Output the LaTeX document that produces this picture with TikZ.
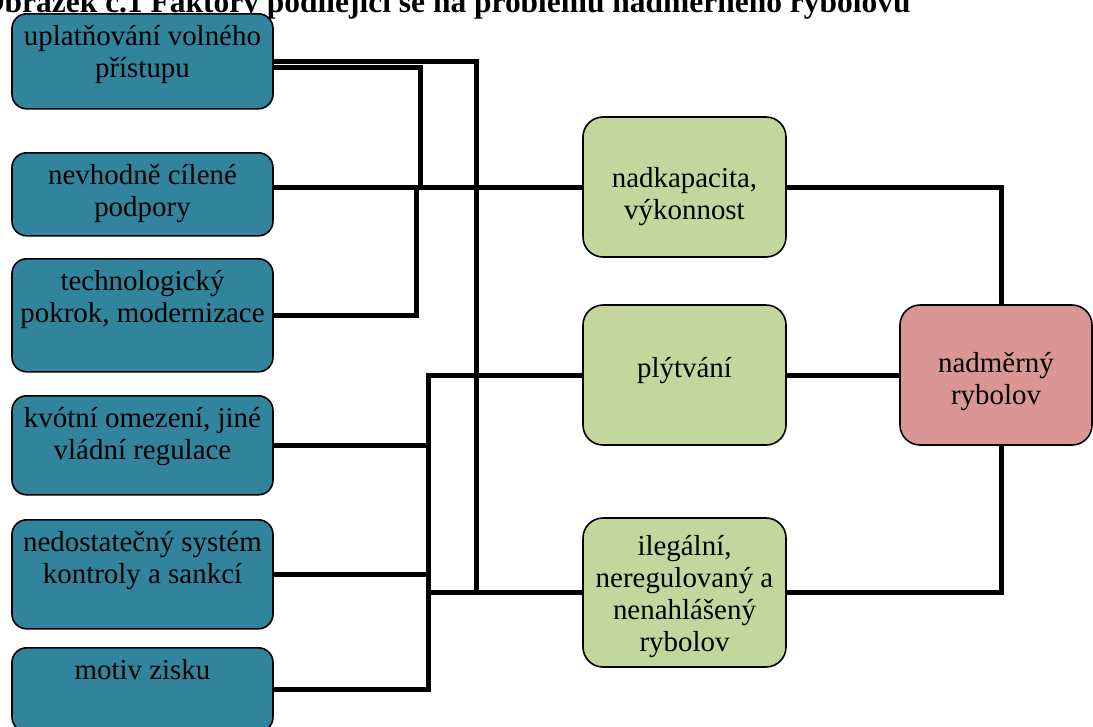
\documentclass[tikz,border=0pt]{standalone}
\usepackage{fontspec}
\setmainfont{Liberation Serif}
\usepackage{tikz}

\definecolor{factorteal}{RGB}{49,132,155}
\definecolor{effectgreen}{RGB}{195,214,155}
\definecolor{resultpink}{RGB}{217,150,148}

\begin{document}
\begin{tikzpicture}[x=0.75pt,y=0.75pt,yscale=-1,xscale=1,
	factor/.style={draw, line width=1.2pt, fill=factorteal, rounded corners=11pt, anchor=north, text width=190pt, align=flush center, inner xsep=2.875pt, inner ysep=0pt, text height=24pt, font=\fontsize{21.7}{24}\selectfont},
	effect/.style={draw, line width=1.2pt, fill=effectgreen, rounded corners=15pt, text width=145pt, align=flush center, inner xsep=3.625pt, inner ysep=0pt, font=\fontsize{21.7}{24}\selectfont},
	result/.style={effect, fill=resultpink, text width=137pt, inner xsep=3.5pt},
	link/.style={line width=3.75pt}]
	%set diagram left start at 0, and has height of 726
	\useasboundingbox (0,0) rectangle (1093,726);
	
	%Text Node: title, cut by the page top
	\node[anchor=base west, inner sep=0pt, font=\bfseries\fontsize{23.6}{28}\selectfont] (title) at (-20,12.5) {Obrázek č.1 Faktory podílející se na problému nadměrného rybolovu};
	
	%Rounded Rect: factors
	\node[factor, text depth=47.25pt] (f1) at (142.5,13) {uplatňování volného\\přístupu};
	\node[factor, text depth=38.25pt] (f2) at (142.5,152) {nevhodně cílené\\podpory};
	\node[factor, text depth=60.75pt] (f3) at (142.5,258) {technologický\\pokrok, modernizace};
	\node[factor, text depth=50.25pt] (f4) at (142.5,395) {kvótní omezení, jiné\\vládní regulace};
	\node[factor, text depth=57.75pt] (f5) at (142.5,519) {nedostatečný systém\\kontroly a sankcí};
	\node[factor, text depth=39pt] (f6) at (142.5,647) {motiv zisku};
	
	%Rounded Rect: effects
	\node[effect, text height=52.5pt, text depth=52.5pt] (a) at (684.5,187) {nadkapacita,\\výkonnost};
	\node[effect, text height=54pt, text depth=51pt] (b) at (684.5,375) {plýtvání};
	\node[effect, text height=27.75pt, text depth=84pt] (c) at (684.5,592.5) {ilegální,\\neregulovaný a\\nenahlášený\\rybolov};
	
	%Rounded Rect: result
	\node[result, text height=50.25pt, text depth=54.75pt] (r) at (996,375) {nadměrný\\rybolov};
	
	%bus lines
	\coordinate (bus1) at (476,0);
	\coordinate (bus2) at (420,0);
	\coordinate (bus3) at (416,0);
	\coordinate (bus4) at (428,0);
	\coordinate (bus5) at (1001,0);
	
	%Straight Lines: factors to effects
	\draw[link] (f1.east) -| (bus1 |- c.west) -- (c.west);
	\draw[link] ([yshift=4.5pt]f1.east) -| (bus2 |- a.west);
	\draw[link] (f2.east |- a.west) -- (a.west);
	\draw[link] (f3.east) -| (bus3 |- a.west);
	\draw[link] (f4.east) -| (bus4 |- b.west) -- (b.west);
	\draw[link] (f5.east) -| (bus4 |- b.west);
	\draw[link] (f6.east) -| (bus4 |- b.west);
	\draw[link] (bus4 |- c.west) -- (c.west);
	
	%Straight Lines: effects to result
	\draw[link] (a.east) -| (bus5 |- r.north);
	\draw[link] (b.east) -- (r.west);
	\draw[link] (c.east) -| (bus5 |- r.south);
	
\end{tikzpicture}
\end{document}
